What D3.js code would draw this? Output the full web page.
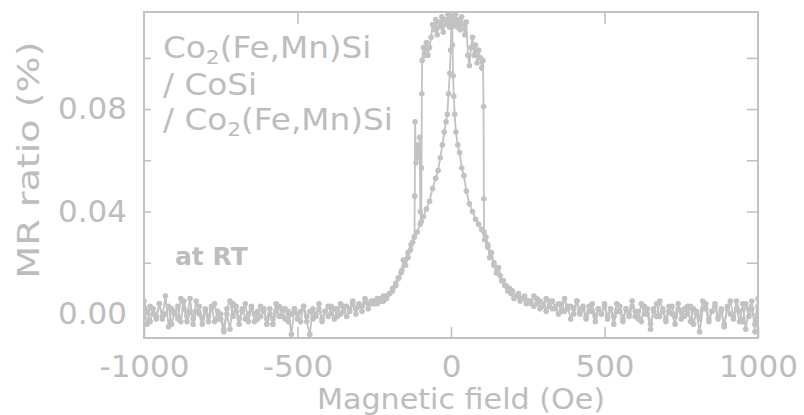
<!DOCTYPE html>
<html>
<head>
<meta charset="utf-8">
<script src="https://cdn.jsdelivr.net/npm/d3@7"></script>
<style>
  html, body { margin: 0; padding: 0; background: #ffffff; }
  svg { display: block; }
  text { font-family: "DejaVu Sans", Verdana, sans-serif; fill: #bdbdbd; }
</style>
</head>
<body>
<svg id="chart" width="804" height="415"></svg>
<script>
// Magnetoresistance of a Co2(Fe,Mn)Si / CoSi / Co2(Fe,Mn)Si trilayer at room temperature.
// Two field sweeps: "down" runs from +1000 Oe to -1000 Oe, "up" runs back again.

const xTicks = [-1000, -500, 0, 500, 1000];
const yTicks = [0, 0.02, 0.04, 0.06, 0.08, 0.10];
const yLabelled = [0, 0.04, 0.08];
const legendLines = ["Co|2|(Fe,Mn)Si", "/ CoSi", "/ Co|2|(Fe,Mn)Si"];

// Baseline tails, sampled every 10 Oe (MR in %).
// down sweep, H = 1000 ... 260
const downHighTail = [
  0.006, -0.004, 0.002, -0.001, 0.004, -0.003, 0.001, 0.005, -0.002, 0.000,
  0.003, -0.005, 0.002, -0.001, 0.004, 0.001, -0.003, 0.002, 0.005, -0.002,
  0.001, -0.004, 0.003, 0.000, 0.002, -0.002, 0.004, -0.001, 0.003, 0.001,
  -0.003, 0.002, 0.005, -0.001, 0.001, -0.004, 0.002, 0.000, 0.004, -0.002,
  0.001, 0.003, -0.001, 0.002, -0.003, 0.001, 0.004, -0.001, 0.002, -0.002,
  0.003, 0.000, 0.002, -0.001, 0.004, 0.001, -0.002, 0.003, 0.001, 0.005,
  0.000, 0.003, 0.002, 0.006, 0.001, 0.004, 0.002, 0.005, 0.003, 0.006,
  0.003, 0.005, 0.004, 0.007, 0.004
];
// down sweep, H = -260 ... -1000
const downLowTail = [
  0.004, 0.002, 0.005, 0.001, 0.003, 0.000, 0.004, 0.001, -0.001, 0.003,
  0.000, 0.002, -0.002, 0.003, -0.001, 0.001, -0.003, 0.002, 0.000, -0.002,
  0.001, -0.001, 0.003, -0.003, 0.000, 0.002, -0.008, 0.001, -0.002, 0.002,
  -0.001, 0.004, -0.002, 0.000, -0.004, 0.002, -0.001, 0.001, -0.003, 0.003,
  0.000, -0.002, 0.002, -0.004, 0.001, 0.004, -0.006, 0.000, -0.007, -0.002,
  0.001, -0.003, 0.003, -0.001, 0.002, -0.004, 0.000, 0.005, -0.002, 0.001,
  -0.003, 0.002, 0.006, -0.002, 0.001, -0.004, 0.003, 0.000, -0.002, 0.004,
  -0.001, 0.002, -0.003, 0.001, 0.005
];
// up sweep, H = -1000 ... -260
const upLowTail = [
  0.002, -0.004, 0.003, 0.000, -0.002, 0.004, -0.001, 0.007, -0.005, 0.002,
  0.000, 0.003, -0.003, 0.005, -0.001, 0.006, -0.004, 0.001, 0.003, -0.002,
  0.001, -0.003, 0.002, 0.004, -0.002, 0.000, -0.006, 0.002, 0.005, -0.001,
  0.003, -0.002, 0.001, 0.004, -0.003, 0.002, 0.000, -0.002, 0.003, 0.001,
  -0.002, 0.002, -0.004, 0.001, 0.003, -0.001, 0.002, -0.003, 0.000, 0.002,
  -0.002, 0.001, 0.003, -0.003, -0.008, 0.002, -0.001, 0.004, -0.002, 0.001,
  0.003, 0.000, 0.002, -0.001, 0.004, 0.001, 0.003, 0.002, 0.005, 0.002,
  0.004, 0.003, 0.006, 0.004, 0.005
];
// up sweep, H = 260 ... 1000
const upHighTail = [
  0.005, 0.003, 0.006, 0.002, 0.004, 0.001, 0.005, 0.002, 0.003, 0.000,
  0.004, 0.001, 0.003, -0.002, 0.002, 0.005, 0.000, 0.002, -0.001, 0.003,
  0.001, -0.003, 0.002, 0.000, 0.004, -0.001, 0.002, -0.004, 0.001, 0.003,
  -0.002, 0.002, 0.000, 0.005, -0.001, 0.001, -0.003, 0.003, 0.000, -0.006,
  0.002, 0.004, -0.001, 0.001, -0.002, 0.003, 0.000, -0.004, 0.002, 0.001,
  -0.001, 0.003, -0.003, 0.002, 0.000, -0.007, 0.002, 0.004, -0.002, 0.001,
  0.003, -0.002, 0.001, -0.004, 0.002, 0.005, -0.001, 0.002, -0.003, 0.004,
  -0.006, 0.002, 0.005, -0.007, 0.003
];

// Central region, [field (Oe), MR (%)]
const downCore = [
  [250, 0.005], [240, 0.007], [230, 0.006], [220, 0.008], [210, 0.007], [200, 0.009],
  [190, 0.010], [180, 0.011], [170, 0.013], [160, 0.015], [150, 0.018], [140, 0.020],
  [130, 0.024], [120, 0.026], [110, 0.029], [100, 0.033], [90, 0.035], [80, 0.037],
  [70, 0.040], [60, 0.043], [50, 0.048], [42, 0.054], [35, 0.057], [28, 0.063],
  [22, 0.066], [16, 0.071], [12, 0.078], [9, 0.085], [7, 0.093], [5, 0.105],
  [4, 0.114], [0, 0.116], [-5, 0.112], [-10, 0.117], [-15, 0.113], [-20, 0.115],
  [-25, 0.110], [-30, 0.116], [-35, 0.112], [-40, 0.114], [-45, 0.109], [-50, 0.115],
  [-55, 0.111], [-60, 0.113], [-65, 0.108], [-70, 0.104], [-75, 0.101], [-80, 0.106],
  [-85, 0.101], [-90, 0.104], [-94, 0.099], [-95, 0.086], [-96, 0.057], [-97, 0.036],
  [-100, 0.040], [-102, 0.069], [-106, 0.061], [-110, 0.066], [-114, 0.059], [-117, 0.075],
  [-118, 0.046], [-119, 0.030], [-125, 0.028], [-132, 0.025], [-140, 0.022], [-148, 0.019],
  [-155, 0.021], [-163, 0.016], [-172, 0.014], [-180, 0.012], [-190, 0.010], [-200, 0.008],
  [-210, 0.007], [-220, 0.005], [-230, 0.006], [-240, 0.004], [-250, 0.005]
];
const upCore = [
  [-250, 0.004], [-240, 0.006], [-230, 0.005], [-220, 0.007], [-210, 0.006], [-200, 0.008],
  [-190, 0.009], [-180, 0.011], [-170, 0.014], [-160, 0.017], [-150, 0.021], [-140, 0.024],
  [-130, 0.027], [-120, 0.030], [-110, 0.032], [-100, 0.035], [-90, 0.038], [-80, 0.041],
  [-70, 0.044], [-60, 0.049], [-50, 0.053], [-42, 0.056], [-35, 0.061], [-28, 0.066],
  [-22, 0.071], [-16, 0.075], [-12, 0.078], [-8, 0.086], [-4, 0.094], [-1, 0.103],
  [1, 0.112], [5, 0.116], [10, 0.113], [15, 0.117], [20, 0.112], [25, 0.115],
  [30, 0.111], [35, 0.116], [40, 0.113], [45, 0.109], [50, 0.114], [55, 0.101],
  [60, 0.097], [65, 0.104], [70, 0.108], [75, 0.101], [80, 0.105], [85, 0.098],
  [90, 0.103], [95, 0.100], [100, 0.096], [104, 0.099], [106, 0.081], [107, 0.045],
  [108, 0.032], [114, 0.030], [120, 0.027], [126, 0.022], [132, 0.024], [140, 0.019],
  [148, 0.016], [155, 0.018], [165, 0.013], [175, 0.011], [185, 0.009], [195, 0.008],
  [205, 0.006], [215, 0.007], [225, 0.005], [235, 0.006], [245, 0.004], [250, 0.005]
];

// Assemble the two sweeps in measurement order.
const downSweep = [
  ...downHighTail.map((v, i) => [1000 - 10 * i, v]),
  ...downCore,
  ...downLowTail.map((v, i) => [-260 - 10 * i, v])
];
const upSweep = [
  ...upLowTail.map((v, i) => [-1000 + 10 * i, v]),
  ...upCore,
  ...upHighTail.map((v, i) => [260 + 10 * i, v])
];

const svg = d3.select("#chart");
const frame = { left: 144, right: 758, top: 12, bottom: 338 };
const ink = "#c2c2c2";

const x = d3.scaleLinear().domain([-1000, 1000]).range([frame.left, frame.right]);
const y = d3.scaleLinear().domain([-0.0094, 0.1179]).range([frame.bottom, frame.top]);

svg.append("defs").append("clipPath").attr("id", "plot-clip")
  .append("rect")
  .attr("x", frame.left).attr("y", frame.top)
  .attr("width", frame.right - frame.left).attr("height", frame.bottom - frame.top);

// Ticks on all four sides, pointing into the frame
function styleAxis(g) {
  g.select(".domain").remove();
  g.selectAll(".tick line").attr("stroke", ink).attr("stroke-width", 1.6);
  g.selectAll(".tick text")
    .attr("fill", "#bdbdbd")
    .style("font-family", "'DejaVu Sans', Verdana, sans-serif")
    .style("font-size", "31px");
}

svg.append("g")
  .attr("transform", `translate(0,${frame.bottom})`)
  .call(d3.axisBottom(x).tickValues(xTicks).tickSizeInner(-11).tickSizeOuter(0)
    .tickPadding(17).tickFormat(d => String(d)))
  .call(styleAxis);

svg.append("g")
  .attr("transform", `translate(0,${frame.top})`)
  .call(d3.axisTop(x).tickValues(xTicks.slice(1, -1)).tickSizeInner(-12).tickSizeOuter(0)
    .tickFormat(""))
  .call(styleAxis);

svg.append("g")
  .attr("transform", `translate(${frame.left},0)`)
  .call(d3.axisLeft(y).tickValues(yTicks).tickSizeInner(-7).tickSizeOuter(0)
    .tickPadding(17)
    .tickFormat(d => yLabelled.some(v => Math.abs(v - d) < 1e-9) ? d.toFixed(2) : ""))
  .call(styleAxis);

svg.append("g")
  .attr("transform", `translate(${frame.right},0)`)
  .call(d3.axisRight(y).tickValues(yTicks).tickSizeInner(-11).tickSizeOuter(0)
    .tickFormat(""))
  .call(styleAxis);

// Data: connected points for each sweep
const plot = svg.append("g").attr("clip-path", "url(#plot-clip)");
const line = d3.line().x(d => x(d[0])).y(d => y(d[1]));

[upSweep, downSweep].forEach(sweep => {
  plot.append("path")
    .datum(sweep)
    .attr("d", line)
    .attr("fill", "none")
    .attr("stroke", ink)
    .attr("stroke-width", 1.8)
    .attr("stroke-linejoin", "round");
  plot.append("g")
    .selectAll("circle")
    .data(sweep)
    .join("circle")
    .attr("cx", d => x(d[0]))
    .attr("cy", d => y(d[1]))
    .attr("r", 2.8)
    .attr("fill", ink);
});

// Frame
svg.append("rect")
  .attr("x", frame.left).attr("y", frame.top)
  .attr("width", frame.right - frame.left).attr("height", frame.bottom - frame.top)
  .attr("fill", "none")
  .attr("stroke", ink)
  .attr("stroke-width", 2);

// Axis titles
svg.append("text")
  .attr("transform", "translate(461,409) scale(1.04,1)")
  .attr("text-anchor", "middle")
  .style("font-size", "29px")
  .text("Magnetic field (Oe)");

svg.append("text")
  .attr("transform", "translate(39,160) rotate(-90) scale(1.27,1)")
  .attr("text-anchor", "middle")
  .style("font-size", "30px")
  .text("MR ratio (%)");

// Sample description; "|" marks a subscript
const legend = svg.append("g").attr("transform", "translate(163,0) scale(1.09,1)");
legendLines.forEach((txt, i) => {
  const t = legend.append("text")
    .attr("x", 0)
    .attr("y", [58, 95, 130][i])
    .style("font-size", "30px");
  txt.split("|").forEach((part, j) => {
    const sub = j % 2 === 1;
    t.append("tspan")
      .attr("dy", sub ? 6 : (j > 0 ? -6 : 0))
      .style("font-size", sub ? "20px" : "30px")
      .text(part);
  });
});

svg.append("text")
  .attr("x", 175).attr("y", 265)
  .style("font-size", "25px")
  .style("font-weight", "bold")
  .text("at RT");
</script>
</body>
</html>
